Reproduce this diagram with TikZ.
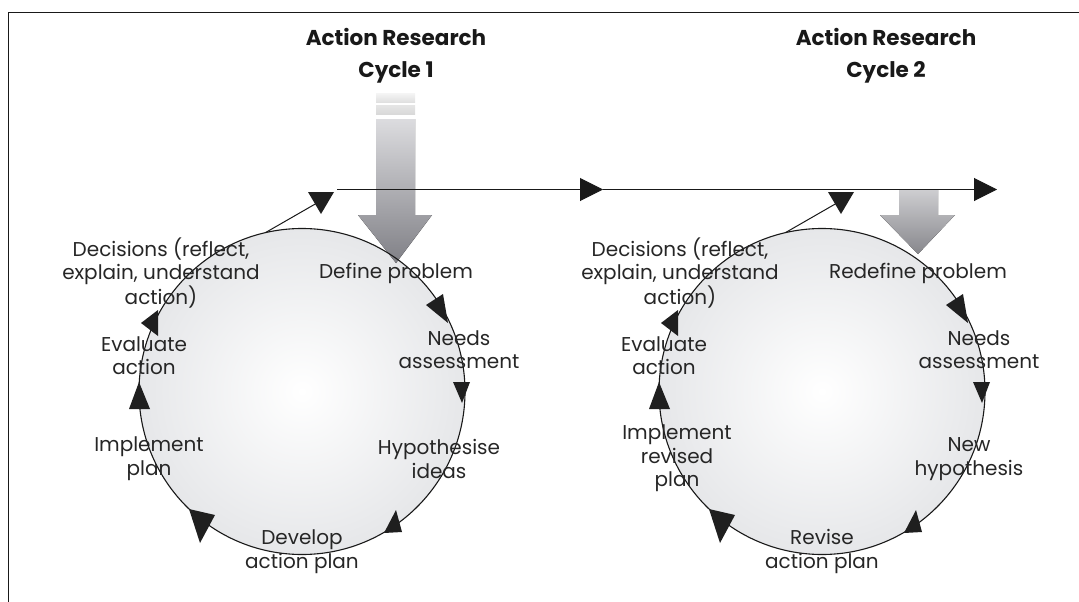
\documentclass[tikz,border=0pt]{standalone}
\usepackage{fontspec}
\setmainfont{Poppins}
\usetikzlibrary{arrows.meta}
\definecolor{txt}{RGB}{38,38,38}
\definecolor{ballmid}{RGB}{233,234,236}
\definecolor{balledge}{RGB}{205,206,210}
\definecolor{arrtop}{RGB}{220,220,223}
\definecolor{arrbot}{RGB}{128,128,134}
\definecolor{arrtoptwo}{RGB}{205,205,208}
\definecolor{arrbottwo}{RGB}{135,135,140}
\pgfdeclareradialshading{ballshade}{\pgfpoint{0bp}{0bp}}{color(0bp)=(white); color(22bp)=(ballmid); color(50bp)=(balledge)}
\newcommand\cycleheads{%
  \fill[cyclehead] (124,-86.5) -- (141,-97.5) -- (146,-68.5) -- cycle;
  \fill[cyclehead] (151,-9.5) -- (168,-9.5) -- (160,11.5) -- cycle;
  \fill[cyclehead] (94,118.5) -- (82,141.5) -- (100,140.5) -- cycle;
  \fill[cyclehead] (-113,117.5) -- (-87,123.5) -- (-102,151.5) -- cycle;
  \fill[cyclehead] (-163,-9.5) -- (-173,17.5) -- (-152,17.5) -- cycle;
  \fill[cyclehead] (-161,-68.5) -- (-144,-81.5) -- (-144,-55.5) -- cycle;
  \fill[cyclehead] (6,-199.5) -- (32,-199.5) -- (19,-177.5) -- cycle;
}
\begin{document}
\begin{tikzpicture}[x=1pt,y=-1pt,
  lbl/.style={font=\fontsize{20}{23.5}\selectfont, align=center, inner sep=0pt, text=txt},
  ttl/.style={font=\bfseries\fontsize{21.5}{32}\selectfont, align=center, inner sep=0pt, text=black!90},
  ball/.style={circle, minimum size=326pt, inner sep=0pt, outer sep=0pt, shading=ballshade},
  ballline/.style={draw=black!90, line width=1.1pt},
  conn/.style={draw=black!90, line width=1pt},
  cyclehead/.style={fill=black!88},
  flowtip/.style={-{Triangle[length=23pt,width=23pt]}},
  frameline/.style={draw=black!90, line width=1.6pt}]
\useasboundingbox (0,0) rectangle (1079,602);
% frame
\draw[frameline] (1081,12.7) -- (8.6,12.7) -- (8.6,604);
% circles
\node[ball] (c1) at (302,391.5) {};
\node[ball] (c2) at (822,391.5) {};
\draw[ballline] (c2.center) circle[radius=163pt];
% big arrow 1
\fill[top color=white!96!black, bottom color=white!88!black] (376,93) rectangle (415,102);
\fill[top color=white!90!black, bottom color=white!85!black] (376,105) rectangle (415,114);
\fill[top color=arrtop, bottom color=arrbot] (376,119) -- (415,119) -- (415,215) -- (432,215) -- (396,263) -- (358,215) -- (376,215) -- cycle;
% big arrow 2
\fill[top color=arrtoptwo, bottom color=arrbottwo] (899,190) -- (938,190) -- (938,215) -- (955,215) -- (918,254) -- (880,215) -- (899,215) -- cycle;
\draw[ballline] (c1.center) circle[radius=163pt];
% timeline
\coordinate (h0) at (337,189.5);
\coordinate (hm) at (603,189.5);
\coordinate (h1) at (997,189.5);
\draw[conn, flowtip] (h0) -- (hm);
\draw[conn, flowtip] (hm) -- (h1);
% diagonal connectors
\coordinate (d1) at (317,203);
\coordinate (d2) at (837,203);
\draw[conn] (c1.103.7) -- (d1);
\draw[conn] (c2.103.7) -- (d2);
% arrowheads
\begin{scope}[shift={(302,391.5)}]\cycleheads\end{scope}
\begin{scope}[shift={(822,391.5)}]\cycleheads\end{scope}
% titles
\node[ttl] (t1) at (396,56) {Action Research\\Cycle 1};
\node[ttl] (t2) at (886,56) {Action Research\\Cycle 2};
% labels cycle 1
\node[lbl] (dec1) at (161,273) {Decisions (reflect,\\explain, understand\\action)};
\node[lbl] (def1) at (396,273) {Define problem};
\node[lbl] (need1) at (459,349.5) {Needs\\assessment};
\node[lbl] (hyp1) at (439,459) {Hypothesise\\ideas};
\node[lbl] (dev1) at (302,551.5) {Develop\\action plan};
\node[lbl] (imp1) at (149,458.5) {Implement\\plan};
\node[lbl] (eva1) at (144,355.5) {Evaluate\\action};
% labels cycle 2
\node[lbl] (dec2) at (680,273) {Decisions (reflect,\\explain, understand\\action)};
\node[lbl] (def2) at (918,273) {Redefine problem};
\node[lbl] (need2) at (979,349.5) {Needs\\assessment};
\node[lbl] (hyp2) at (969,459) {New\\hypothesis};
\node[lbl] (dev2) at (822,551.5) {Revise\\action plan};
\node[lbl] (imp2) at (677,458.5) {Implement\\revised\\plan};
\node[lbl] (eva2) at (664,355.5) {Evaluate\\action};
\end{tikzpicture}
\end{document}
